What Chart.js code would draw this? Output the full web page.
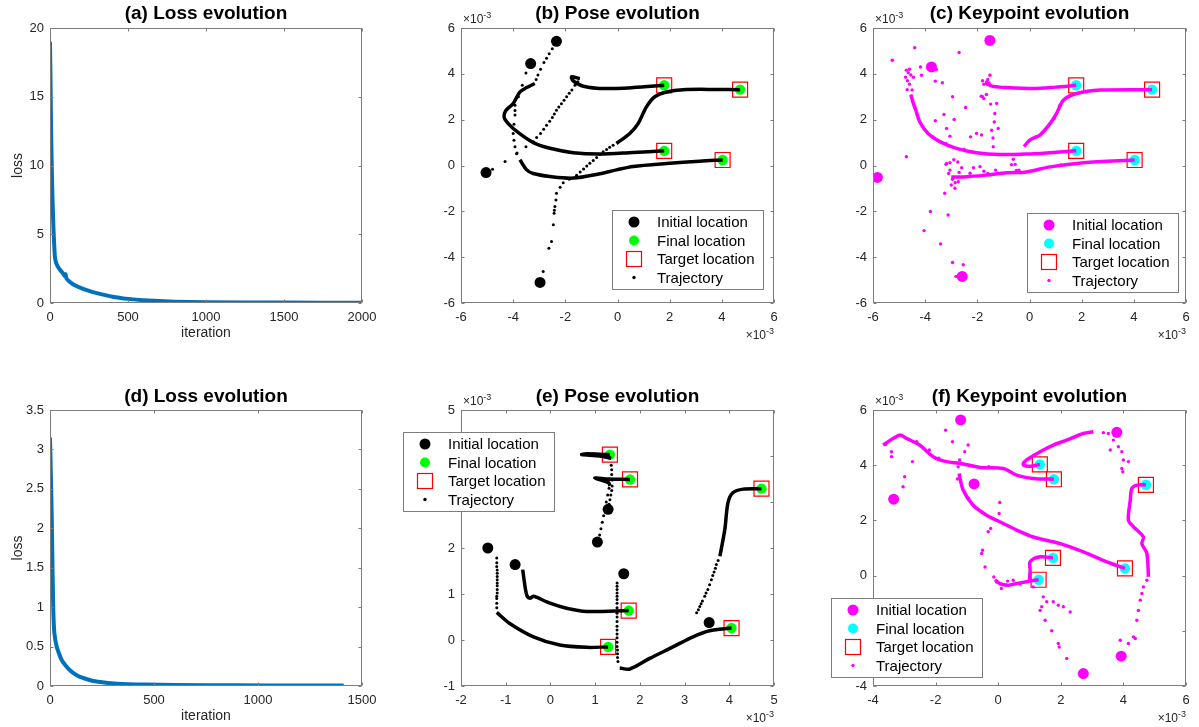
<!DOCTYPE html>
<html>
<head>
<meta charset="utf-8">
<script src="https://cdn.jsdelivr.net/npm/chart.js@4.4.1/dist/chart.umd.min.js"></script>
<style>
  html, body { margin: 0; padding: 0; background: #fff; }
  #fig { position: relative; width: 1199px; height: 727px; overflow: hidden; }
  #fig canvas { position: absolute; }
</style>
</head>
<body>
<div id="fig">
  <canvas id="pa" width="400" height="363" style="left:0;top:0"></canvas>
  <canvas id="pb" width="400" height="363" style="left:400px;top:0"></canvas>
  <canvas id="pc" width="399" height="363" style="left:800px;top:0"></canvas>
  <canvas id="pd" width="400" height="364" style="left:0;top:363px"></canvas>
  <canvas id="pe" width="400" height="364" style="left:400px;top:363px"></canvas>
  <canvas id="pf" width="399" height="364" style="left:800px;top:363px"></canvas>
</div>
<script>
/* ---------- (a) loss, first run ---------- */
const lossIterA = [0, 4, 8, 12, 17, 22, 27, 32, 40, 50, 65, 80, 95, 100, 105, 120, 150, 200, 250, 300, 400, 500, 600, 800, 1000, 1500, 2000];
const lossValA  = [19, 15.5, 12, 9.5, 7.2, 5.5, 4.2, 3.3, 2.9, 2.65, 2.4, 2.2, 1.95, 2.1, 1.8, 1.6, 1.35, 1.08, 0.88, 0.72, 0.46, 0.3, 0.2, 0.1, 0.06, 0.03, 0.02];

/* ---------- (d) loss, second run ---------- */
const lossIterD = [0, 4, 8, 13, 16, 21, 32, 45, 56, 75, 96, 120, 144, 180, 208, 260, 320, 450, 600, 900, 1200, 1412];
const lossValD  = [3.15, 2.7, 2.2, 1.35, 0.95, 0.67, 0.5, 0.4, 0.33, 0.26, 0.2, 0.15, 0.115, 0.085, 0.064, 0.045, 0.03, 0.018, 0.012, 0.008, 0.006, 0.005];

/* ---------- (b) pose, first run (units of 1e-3) ---------- */
const poseInitB = [[-2.34, 5.42], [-3.33, 4.45], [-5.04, -0.31], [-2.97, -5.1]];
const poseFinalB = [[1.79, 3.5], [4.70, 3.31], [1.79, 0.64], [4.03, 0.24]];
const targetB = [[1.79, 3.5], [4.70, 3.31], [1.79, 0.64], [4.03, 0.24]];
const poseDenseB = [
  [[-3.17, 3.58], [-3.48, 3.4], [-3.74, 3.21], [-4.0, 2.7], [-4.28, 2.4], [-4.35, 2.12], [-4.19, 1.83], [-3.8, 1.43], [-3.23, 1.0], [-2.59, 0.75], [-1.7, 0.56], [-0.68, 0.5], [0.6, 0.57], [1.79, 0.64]],
  [[-3.74, 0.25], [-3.48, -0.19], [-3.23, -0.35], [-2.59, -0.48], [-1.7, -0.55], [-0.68, -0.36], [-0.04, -0.19], [0.6, -0.04], [1.88, 0.09], [3.15, 0.19], [4.03, 0.24]],
  [[-1.44, 3.79], [-1.76, 3.87], [-1.72, 3.72], [-1.5, 3.55], [-1.31, 3.46], [-0.68, 3.36], [0.6, 3.4], [1.79, 3.5]],
  [[-0.04, 0.96], [0.47, 1.4], [0.79, 1.83], [1.11, 2.56], [1.43, 3.0], [1.88, 3.21], [2.52, 3.31], [3.79, 3.32], [4.70, 3.31]]
];
const poseDotsB = [
  [-2.5, 5.1], [-2.62, 4.88], [-2.72, 4.68], [-2.82, 4.49], [-2.95, 4.2], [-3.05, 3.95], [-3.12, 3.75],
  [-3.51, 4.04], [-3.65, 3.5], [-3.8, 3.0], [-3.93, 2.63], [-3.93, 2.4], [-3.93, 2.2], [-3.97, 1.8], [-4.0, 1.4], [-3.97, 1.1], [-3.93, 0.82], [-3.85, 0.55],
  [-4.79, -0.16], [-4.31, 0.17], [-3.87, 0.51], [-3.51, 0.82], [-3.23, 1.04], [-3.1, 1.22], [-2.95, 1.4], [-2.83, 1.58], [-2.72, 1.76], [-2.6, 1.93], [-2.5, 2.1], [-2.42, 2.25], [-2.34, 2.41], [-2.25, 2.55], [-2.15, 2.7], [-2.05, 2.85], [-1.95, 3.0], [-1.85, 3.15], [-1.75, 3.3], [-1.63, 3.5], [-1.52, 3.66],
  [-2.85, -4.62], [-2.63, -3.61], [-2.53, -3.32], [-2.46, -2.59], [-2.43, -2.08], [-2.42, -1.95], [-2.4, -1.79], [-2.36, -1.5], [-2.34, -1.21], [-2.2, -0.95], [-2.08, -0.75], [-1.85, -0.6], [-1.57, -0.42], [-1.43, -0.28], [-1.3, -0.15], [-1.18, -0.02], [-1.06, 0.1], [-0.93, 0.22], [-0.8, 0.35], [-0.68, 0.48], [-0.55, 0.6], [-0.42, 0.7], [-0.3, 0.8], [-0.17, 0.88]
];

/* ---------- (c) keypoints, first run ---------- */
const kpInitC = [[-1.52, 5.46], [-3.76, 4.30], [-5.83, -0.52], [-2.58, -4.84]];
const kpFinalC = [[1.79, 3.5], [4.70, 3.31], [1.79, 0.64], [4.03, 0.24]];
const targetC = [[1.79, 3.5], [4.70, 3.31], [1.79, 0.64], [4.03, 0.24]];
const kpDenseC = [
  [[-1.71, 3.6], [-1.4, 3.45], [-1.14, 3.42], [0.14, 3.36], [1.0, 3.42], [1.79, 3.5]],
  [[-4.55, 3.1], [-4.45, 2.7], [-4.36, 2.42], [-4.21, 1.91], [-3.89, 1.4], [-3.44, 1.04], [-2.8, 0.75], [-2.03, 0.56], [-1.13, 0.48], [-0.12, 0.5], [0.79, 0.56], [1.79, 0.64]],
  [[-0.21, 0.82], [0.01, 1.11], [0.4, 1.33], [0.79, 1.83], [1.04, 2.27], [1.3, 2.85], [1.81, 3.14], [2.71, 3.29], [4.70, 3.31]],
  [[-3.0, -0.5], [-2.6, -0.5], [-2.41, -0.49], [-1.65, -0.42], [-0.88, -0.32], [-0.12, -0.28], [0.79, -0.06], [2.07, 0.12], [4.03, 0.24]]
];
const kpDotsC = [
  [-5.26, 4.59], [-4.40, 5.14], [-2.70, 4.93], [-4.69, 3.31], [-4.72, 0.38], [-4.18, 4.30], [-4.14, 3.94], [-3.57, 4.19], [-3.61, 3.68], [-3.34, 3.61],
  [-2.95, 3.0], [-2.45, 2.53], [-3.28, 2.23], [-2.89, 2.01], [-3.61, 1.95], [-3.18, 1.62], [-3.05, 1.28], [-2.26, 1.25], [-2.03, 1.4], [-1.84, 1.33],
  [-1.45, 1.54], [-1.39, 0.82], [-1.33, 2.27], [-1.26, 2.71], [-1.2, 1.62], [-1.49, 2.68], [-1.8, 3.0], [-1.65, 3.1], [-1.52, 3.94], [-0.62, 0.27],
  [-0.69, 0.03], [-1.9, -0.05], [-2.28, -0.34], [-3.25, -1.21], [-3.12, -2.16], [-3.8, -2.01], [-4.04, -2.84], [-3.41, -3.42], [-2.95, -4.23], [-2.54, -4.33],
  [-2.82, -4.84], [-3.18, 0.09], [-3.05, -0.2], [-2.86, -0.99], [-2.73, -0.71],
  [-4.72, 4.16], [-4.65, 4.05], [-4.6, 4.2], [-4.75, 3.85], [-4.68, 3.7], [-4.55, 3.95], [-4.45, 3.85], [-4.6, 3.55], [-4.5, 3.3],
  [-1.8, 3.7], [-1.75, 3.55], [-1.65, 3.65], [-1.6, 3.75], [-1.55, 3.6], [-1.85, 3.02], [-1.75, 2.92],
  [-3.2, 0.05], [-3.1, -0.35], [-2.95, -0.6], [-2.85, -0.75], [-3.0, -0.85], [-2.7, -0.3], [-2.6, -0.1], [-2.75, 0.15], [-2.9, 0.25], [-3.05, 0.12],
  [-2.15, -0.1], [-1.75, -0.25], [-1.3, -0.2], [-1.35, 1.9], [-1.4, 1.2], [-0.55, 0.05], [-0.4, -0.2],
  [-4.4, 2.55], [-4.3, 2.2], [-4.1, 1.7], [-3.7, 1.25], [-3.2, 0.95], [-2.5, 0.7], [-1.6, -0.35], [-0.5, -0.22], [0.3, -0.18], [1.2, 0.02],
  [0.25, 1.25], [0.6, 1.55], [0.95, 2.05], [1.15, 2.6], [1.55, 3.05], [2.2, 3.22]
];

/* ---------- (e) pose, second run ---------- */
const poseInitE = [[-1.40, 2.0], [-0.79, 1.64], [1.05, 2.13], [1.29, 2.84], [1.64, 1.44], [3.55, 0.38]];
const poseFinalE = [[1.33, 4.03], [1.78, 3.49], [4.72, 3.29], [1.75, 0.64], [1.29, -0.15], [4.05, 0.26]];
const targetE = [[1.33, 4.03], [1.78, 3.49], [4.72, 3.29], [1.75, 0.64], [1.29, -0.15], [4.05, 0.26]];
const poseDenseE = [
  [[1.33, 3.35], [1.3, 3.42], [0.99, 3.52], [1.3, 3.5], [1.78, 3.49]],
  [[1.36, 3.95], [1.1, 4.0], [0.7, 4.03], [0.8, 4.05], [1.1, 4.04], [1.33, 4.03]],
  [[-1.2, 0.6], [-0.91, 0.36], [-0.38, 0.07], [0.21, -0.11], [0.81, -0.16], [1.29, -0.15]],
  [[-0.62, 1.53], [-0.59, 1.31], [-0.53, 0.98], [-0.46, 0.91], [-0.38, 0.95], [-0.31, 0.93], [-0.01, 0.8], [0.36, 0.69], [0.81, 0.62], [1.75, 0.64]],
  [[1.55, -0.61], [1.78, -0.63], [2.22, -0.4], [2.74, -0.15], [3.19, 0.07], [3.56, 0.2], [4.05, 0.26]],
  [[3.79, 1.82], [3.9, 2.4], [3.97, 2.98], [4.08, 3.2], [4.31, 3.28], [4.72, 3.29]]
];
const poseDotsE = [
  [1.1, 2.28], [1.13, 2.42], [1.16, 2.56], [1.19, 2.7], [1.22, 2.85], [1.25, 3.0], [1.28, 3.15], [1.31, 3.3],
  [1.31, 2.95], [1.33, 3.05], [1.35, 3.15], [1.37, 3.25], [1.38, 3.35], [1.38, 3.48], [1.37, 3.6], [1.37, 3.7], [1.36, 3.8],
  [-1.2, 1.78], [-1.2, 1.68], [-1.2, 1.6], [-1.19, 1.52], [-1.19, 1.45], [-1.19, 1.38], [-1.19, 1.31], [-1.19, 1.24], [-1.19, 1.18], [-1.19, 1.1], [-1.19, 1.02], [-1.2, 0.95], [-1.2, 0.9], [-1.2, 0.8], [-1.2, 0.7],
  [1.49, 1.24], [1.49, 1.17], [1.49, 1.1], [1.49, 1.02], [1.49, 0.95], [1.49, 0.88], [1.49, 0.8], [1.49, 0.7], [1.49, 0.58], [1.49, 0.5], [1.49, 0.4], [1.49, 0.3], [1.49, 0.22], [1.49, 0.13], [1.49, 0.05], [1.49, -0.05], [1.49, -0.14], [1.5, -0.22], [1.5, -0.3], [1.5, -0.38], [1.51, -0.47],
  [3.27, 0.59], [3.31, 0.66], [3.34, 0.73], [3.37, 0.79], [3.4, 0.85], [3.45, 0.95], [3.48, 1.02], [3.52, 1.1], [3.56, 1.2], [3.6, 1.31], [3.63, 1.4], [3.66, 1.48], [3.69, 1.56], [3.71, 1.64], [3.75, 1.73]
];

/* ---------- (f) keypoints, second run ---------- */
const kpInitF = [[-1.2, 5.64], [-3.34, 2.77], [-0.77, 3.32], [3.79, 5.19], [3.93, -2.92], [2.72, -3.55]];
const kpFinalF = [[1.33, 4.03], [1.78, 3.49], [4.72, 3.29], [1.75, 0.64], [1.29, -0.15], [4.05, 0.26]];
const targetF = [[1.33, 4.03], [1.78, 3.49], [4.72, 3.29], [1.75, 0.64], [1.29, -0.15], [4.05, 0.26]];
const kpDenseF = [
  [[3.04, 5.21], [2.72, 5.15], [2.19, 4.91], [1.76, 4.73], [1.34, 4.49], [0.91, 4.19], [0.8, 4.02], [1.02, 3.96], [1.33, 4.03]],
  [[-3.68, 4.73], [-3.15, 5.09], [-2.93, 4.97], [-2.51, 4.73], [-2.08, 4.31], [-1.65, 4.13], [-1.23, 4.07], [-0.58, 3.92], [0.16, 3.88], [0.59, 3.64], [1.12, 3.52], [1.78, 3.49]],
  [[-1.25, 3.7], [-1.12, 3.1], [-0.8, 2.55], [-0.37, 2.19], [0.05, 1.95], [0.59, 1.65], [1.12, 1.4], [1.98, 1.16], [2.72, 0.86], [3.47, 0.5], [4.05, 0.26]],
  [[-0.1, -0.15], [0.05, -0.29], [0.3, -0.35], [0.48, -0.31], [0.91, -0.22], [1.29, -0.15]],
  [[1.0, -0.15], [1.02, 0.2], [1.02, 0.5], [1.34, 0.68], [1.75, 0.64]],
  [[4.8, -0.05], [4.75, 0.8], [4.59, 1.16], [4.64, 1.4], [4.32, 1.77], [4.16, 2.01], [4.22, 2.74], [4.27, 3.16], [4.43, 3.28], [4.72, 3.29]]
];
const kpDotsF = [
  [-3.41, 4.49], [-3.41, 4.31], [-2.74, 4.13], [-2.99, 3.58], [-3.04, 3.22], [-1.68, 5.27], [-1.46, 4.85], [-0.96, 4.73], [-1.07, 4.49], [-1.23, 4.19], [-1.28, 3.94],
  [0.05, 2.65], [0.03, 2.25], [-0.24, 1.71], [-0.32, 1.59], [-0.5, 0.92], [-0.53, 0.8], [-0.42, 0.31], [-0.14, -0.05], [-0.05, -0.23], [0.1, -0.47], [0.27, -0.35], [0.48, -0.17],
  [1.44, -0.77], [1.39, -1.13], [1.5, -1.62], [1.71, -2.0], [1.92, -2.46], [1.95, -2.59], [2.19, -3.0], [1.55, -0.95], [1.76, -0.95], [1.92, -1.07], [2.08, -1.13], [2.3, -1.32], [1.12, -0.41], [1.34, -1.26],
  [3.52, 5.15], [3.36, 5.18], [3.68, 4.91], [3.84, 4.67], [3.95, 4.49], [3.58, 4.55], [4.0, 4.19], [4.16, 4.13], [3.95, 3.88], [3.98, 3.76],
  [3.9, -2.34], [4.16, -2.46], [4.32, -2.22], [4.38, -2.28], [4.43, -1.62], [4.48, -1.26], [4.54, -0.89], [4.59, -0.65], [4.64, -0.41], [4.75, -0.17],
  [-3.6, 4.75], [-3.3, 5.0], [-2.6, 4.85], [-2.2, 4.55], [-1.9, 4.25], [-0.3, 3.95], [-1.3, 3.5], [-0.95, 2.8], [0.3, -0.2], [0.7, -0.3]
];

/* ---------- shared look ---------- */
const FONT = "'Liberation Sans', Arial, Helvetica, sans-serif";
const INK = "#262626";

const xy = (pts) => pts.map(([x, y]) => ({ x, y }));

/* MATLAB-like box, inward ticks, titles, exponent and legend */
const matlabAxes = {
  id: "matlabAxes",
  afterDatasetsDraw(chart, args, o) {
    const { ctx, chartArea: a, scales } = chart;
    ctx.save();
    ctx.strokeStyle = "#7d7d7d";
    ctx.lineWidth = 1;
    const L = Math.round(a.left) + 0.5, R = Math.round(a.right) - 0.5;
    const T = Math.round(a.top) + 0.5, B = Math.round(a.bottom) - 0.5;
    ctx.strokeRect(L, T, R - L, B - T);
    ctx.beginPath();
    scales.x.ticks.forEach((t) => {
      const px = Math.round(scales.x.getPixelForValue(t.value)) + 0.5;
      ctx.moveTo(px, B); ctx.lineTo(px, B - 3);
      ctx.moveTo(px, T); ctx.lineTo(px, T + 3);
    });
    scales.y.ticks.forEach((t) => {
      const py = Math.round(scales.y.getPixelForValue(t.value)) + 0.5;
      ctx.moveTo(L, py); ctx.lineTo(L + 3, py);
      ctx.moveTo(R, py); ctx.lineTo(R - 3, py);
    });
    ctx.stroke();
    ctx.restore();
  },
  afterDraw(chart, args, o) {
    const { ctx, chartArea: a } = chart;
    ctx.save();
    /* Title */
    ctx.fillStyle = "#000";
    ctx.font = "bold 19px " + FONT;
    ctx.textAlign = "center";
    ctx.textBaseline = "middle";
    ctx.fillText(o.title, (a.left + a.right) / 2, a.top - o.titleDy);
    /* Axis labels */
    ctx.fillStyle = INK;
    ctx.font = "14px " + FONT;
    if (o.xLabel) ctx.fillText(o.xLabel, (a.left + a.right) / 2, a.bottom + 30);
    if (o.yLabel) {
      ctx.save();
      ctx.translate(a.left - 32, (a.top + a.bottom) / 2);
      ctx.rotate(-Math.PI / 2);
      ctx.fillText(o.yLabel, 0, 0);
      ctx.restore();
    }
    /* x10^-3 exponent labels */
    if (o.exponent) {
      const drawExp = (x, y, align) => {
        ctx.font = "12px " + FONT;
        const w1 = ctx.measureText("\u00d710").width;
        ctx.font = "9px " + FONT;
        const w2 = ctx.measureText("-3").width;
        const x0 = align === "right" ? x - w1 - w2 : x;
        ctx.textAlign = "left";
        ctx.textBaseline = "alphabetic";
        ctx.font = "12px " + FONT;
        ctx.fillText("\u00d710", x0, y + 4);
        ctx.font = "9px " + FONT;
        ctx.fillText("-3", x0 + w1, y - 1);
      };
      drawExp(a.left + 2, a.top - 9, "left");
      drawExp(a.right, a.bottom + 32, "right");
    }
    /* Legend */
    if (o.legend) {
      const g = o.legend;
      ctx.fillStyle = "#fff";
      ctx.fillRect(g.x, g.y, g.w, g.h);
      ctx.strokeStyle = "#7d7d7d";
      ctx.lineWidth = 1;
      ctx.strokeRect(g.x + 0.5, g.y + 0.5, g.w, g.h);
      g.items.forEach((it, i) => {
        const cy = g.y + 12 + i * 18.5;
        const cx = g.x + 22;
        if (it.kind === "square") {
          ctx.strokeStyle = it.color;
          ctx.lineWidth = 1.2;
          ctx.strokeRect(cx - 7.5, cy - 7.5, 15, 15);
        } else {
          ctx.fillStyle = it.color;
          ctx.beginPath();
          ctx.arc(cx, cy, it.r, 0, Math.PI * 2);
          ctx.fill();
        }
        ctx.fillStyle = "#000";
        ctx.font = "15px " + FONT;
        ctx.textAlign = "left";
        ctx.textBaseline = "middle";
        ctx.fillText(it.label, g.x + 45, cy + 1);
      });
    }
    ctx.restore();
  },
};

/* Axes options with a fixed plot box */
function axesOptions(canvas, area, xs, ys, deco) {
  const tickFont = { family: FONT, size: 13 };
  return {
    responsive: false,
    animation: false,
    events: [],
    layout: { padding: { left: 0, top: area.top, right: canvas.width - area.right, bottom: 0 } },
    plugins: { legend: { display: false }, tooltip: { enabled: false }, matlabAxes: deco },
    scales: {
      x: {
        type: "linear", min: xs[0], max: xs[1],
        ticks: { stepSize: xs[2], font: tickFont, color: INK, padding: 7, maxRotation: 0, autoSkip: false, callback: (v) => String(v) },
        grid: { display: false, drawTicks: false },
        border: { display: false },
        afterFit: (s) => { s.height = canvas.height - area.bottom; },
      },
      y: {
        type: "linear", min: ys[0], max: ys[1],
        ticks: { stepSize: ys[2], font: tickFont, color: INK, padding: 6, autoSkip: false, callback: (v) => String(v) },
        grid: { display: false, drawTicks: false },
        border: { display: false },
        afterFit: (s) => { s.width = area.left; },
      },
    },
  };
}

/* Loss curve panel */
function lossChart(id, area, iters, vals, xs, ys, title, titleDy) {
  const canvas = document.getElementById(id);
  new Chart(canvas, {
    type: "scatter",
    data: {
      datasets: [{
        data: iters.map((it, i) => ({ x: it, y: vals[i] })),
        showLine: true, borderColor: "#0072BD", borderWidth: 4, pointRadius: 0, tension: 0.2,
      }],
    },
    options: axesOptions(canvas, area, xs, ys, { title, titleDy, xLabel: "iteration", yLabel: "loss" }),
    plugins: [matlabAxes],
  });
}

/* Pose / keypoint panel */
function trackChart(id, area, cfg) {
  const canvas = document.getElementById(id);
  const lines = cfg.dense.map((path) => ({
    data: xy(path), showLine: true, borderColor: cfg.trajColor, borderWidth: 3.5,
    pointRadius: 0, tension: 0.3,
  }));
  new Chart(canvas, {
    type: "scatter",
    data: {
      datasets: [
        ...lines,
        { data: xy(cfg.dots), backgroundColor: cfg.trajColor, borderWidth: 0, pointRadius: cfg.dotR },
        { data: xy(cfg.initial), backgroundColor: cfg.trajColor, borderWidth: 0, pointRadius: 5.5 },
        { data: xy(cfg.final), backgroundColor: cfg.finalColor, borderWidth: 0, pointRadius: 5.2 },
        { data: xy(cfg.target), pointStyle: "rect", pointRadius: 10.6, backgroundColor: "rgba(0,0,0,0)", borderColor: "#ff0000", borderWidth: 1.2 },
      ],
    },
    options: axesOptions(canvas, area, cfg.xs, cfg.ys, {
      title: cfg.title, titleDy: cfg.titleDy, exponent: true,
      legend: {
        x: cfg.legendBox[0], y: cfg.legendBox[1], w: 151, h: 79,
        items: [
          { kind: "circle", color: cfg.trajColor, r: 5.5, label: "Initial location" },
          { kind: "circle", color: cfg.finalColor, r: 5, label: "Final location" },
          { kind: "square", color: "#ff0000", label: "Target location" },
          { kind: "circle", color: cfg.trajColor, r: 1.7, label: "Trajectory" },
        ],
      },
    }),
    plugins: [matlabAxes],
  });
}

lossChart("pa", { left: 50, top: 28, right: 362, bottom: 303 }, lossIterA, lossValA, [0, 2000, 500], [0, 20, 5], "(a) Loss evolution", 14);
lossChart("pd", { left: 50, top: 47, right: 362, bottom: 323 }, lossIterD, lossValD, [0, 1500, 500], [0, 3.5, 0.5], "(d) Loss evolution", 13);

trackChart("pb", { left: 61, top: 28, right: 374, bottom: 303 }, {
  initial: poseInitB, final: poseFinalB, target: targetB, dense: poseDenseB, dots: poseDotsB,
  trajColor: "#000000", finalColor: "#00ff00", dotR: 1.5,
  xs: [-6, 6, 2], ys: [-6, 6, 2], title: "(b) Pose evolution", titleDy: 14, legendBox: [212, 210],
});
trackChart("pc", { left: 73, top: 28, right: 386, bottom: 303 }, {
  initial: kpInitC, final: kpFinalC, target: targetC, dense: kpDenseC, dots: kpDotsC,
  trajColor: "#ff00ff", finalColor: "#00ffff", dotR: 1.7,
  xs: [-6, 6, 2], ys: [-6, 6, 2], title: "(c) Keypoint evolution", titleDy: 14, legendBox: [227, 213],
});
trackChart("pe", { left: 61, top: 47, right: 374, bottom: 323 }, {
  initial: poseInitE, final: poseFinalE, target: targetE, dense: poseDenseE, dots: poseDotsE,
  trajColor: "#000000", finalColor: "#00ff00", dotR: 1.5,
  xs: [-2, 5, 1], ys: [-1, 5, 1], title: "(e) Pose evolution", titleDy: 13, legendBox: [3, 69],
});
trackChart("pf", { left: 73, top: 47, right: 386, bottom: 323 }, {
  initial: kpInitF, final: kpFinalF, target: targetF, dense: kpDenseF, dots: kpDotsF,
  trajColor: "#ff00ff", finalColor: "#00ffff", dotR: 1.7,
  xs: [-4, 6, 2], ys: [-4, 6, 2], title: "(f) Keypoint evolution", titleDy: 13, legendBox: [31, 235],
});
</script>
</body>
</html>
